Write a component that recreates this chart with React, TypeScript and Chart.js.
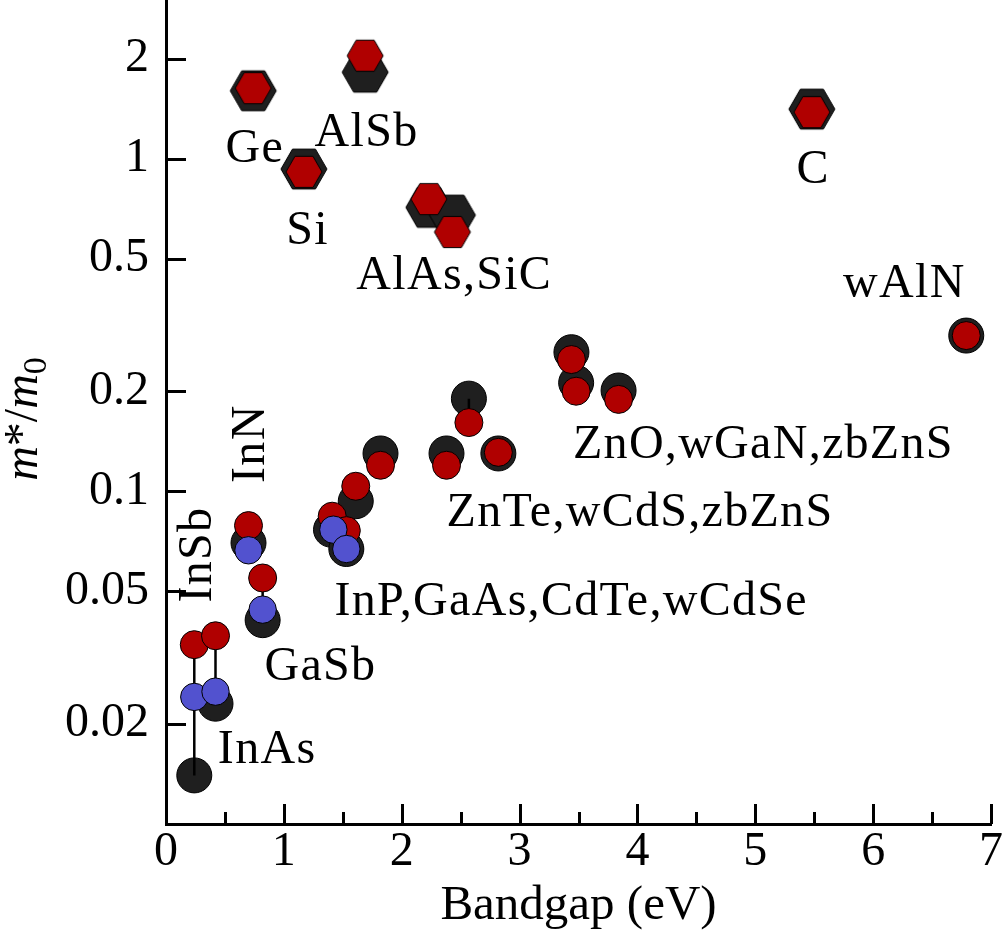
import React, { useEffect, useRef } from "react";
import { Chart, registerables } from "chart.js";

Chart.register(...registerables);

const FONT = '"Liberation Serif", "Times New Roman", serif';

// Direct-gap semiconductors (circles)
const directNames = ["InSb", "InAs", "InN", "GaSb", "InP", "GaAs", "CdTe", "wCdSe", "ZnTe", "wCdS", "zbZnS", "ZnO", "wGaN", "zbZnS", "wAlN"];
const directGapBlack = [0.24, 0.42, 0.70, 0.82, 1.40, 1.53, 1.61, 1.82, 2.38, 2.57, 2.82, 3.44, 3.48, 3.84, 6.79];
const directMassBlack = [0.014, 0.023, 0.070, 0.041, 0.0767, 0.0671, 0.0934, 0.130, 0.130, 0.190, 0.130, 0.262, 0.212, 0.201, 0.294];
const directGapRed = [0.24, 0.42, 0.70, 0.82, 1.41, 1.53, 1.61, 1.82, 2.38, 2.57, 2.82, 3.44, 3.48, 3.84, 6.79];
const directMassRed = [0.0346, 0.0368, 0.0789, 0.0549, 0.0842, 0.0762, 0.1036, 0.1198, 0.1198, 0.161, 0.131, 0.249, 0.200, 0.189, 0.294];
const blueNames = ["InSb", "InAs", "InN", "GaSb", "InP", "GaAs"];
const blueGap = [0.24, 0.42, 0.70, 0.82, 1.42, 1.53];
const blueMass = [0.0241, 0.025, 0.0665, 0.0441, 0.0767, 0.0671];

// Indirect-gap semiconductors (hexagons)
const indirectNames = ["Ge", "Si", "AlSb", "AlAs", "SiC", "C"];
const indirectGap = [0.74, 1.17, 1.69, 2.23, 2.43, 5.48];
const indirectMassBlack = [1.60, 0.931, 1.82, 0.714, 0.677, 1.41];
const indirectMassRed = [1.63, 0.913, 2.04, 0.756, 0.602, 1.38];

// Vertical spread bars
const rangeGap = [0.24, 0.42, 0.82, 2.57];
const rangeHigh = [0.0346, 0.0368, 0.0549, 0.190];
const rangeLow = [0.014, 0.023, 0.041, 0.161];

// Axis ticks
const xTicks = [0, 0.5, 1, 1.5, 2, 2.5, 3, 3.5, 4, 4.5, 5, 5.5, 6, 6.5, 7];
const yTicks = [0.02, 0.05, 0.1, 0.2, 0.5, 1, 2];

// Material labels (left end of baseline, in data units)
const labelText = ["Ge", "AlSb", "Si", "AlAs,SiC", "C", "wAlN", "ZnO,wGaN,zbZnS", "ZnTe,wCdS,zbZnS", "InP,GaAs,CdTe,wCdSe", "GaSb", "InAs", "InSb", "InN"];
const labelGap = [0.505, 1.261, 1.02, 1.615, 5.35, 5.745, 3.453, 2.381, 1.43, 0.836, 0.44, 0.378, 0.828];
const labelMass = [0.977, 1.094, 0.553, 0.405, 0.844, 0.383, 0.126, 0.0785, 0.0426, 0.0271, 0.0153, 0.0463, 0.106];
const labelVertical = [false, false, false, false, false, false, false, false, false, false, false, true, true];

const BLACK = "#1f1f1f";
const RED = "#b00000";
const BLUE = "#5252cf";

function hexagon(radius: number, fill: string, stroke: string, lw: number) {
  const size = Math.ceil(radius * 2 + lw * 2 + 2);
  const c = document.createElement("canvas");
  c.width = size;
  c.height = size;
  const g = c.getContext("2d")!;
  g.translate(size / 2, size / 2);
  g.beginPath();
  for (let i = 0; i < 6; i++) {
    const a = (Math.PI / 3) * i;
    const px = radius * Math.cos(a);
    const py = radius * Math.sin(a);
    if (i === 0) g.moveTo(px, py);
    else g.lineTo(px, py);
  }
  g.closePath();
  g.fillStyle = fill;
  g.fill();
  g.lineWidth = lw;
  g.strokeStyle = stroke;
  g.stroke();
  return c;
}

const pts = (xs: number[], ys: number[]) => xs.map((x, i) => ({ x, y: ys[i] }));

const innerTicks = {
  id: "innerTicks",
  afterDraw(chart: any) {
    const { ctx, chartArea, scales } = chart;
    ctx.save();
    ctx.strokeStyle = "#000";
    ctx.lineWidth = 3;
    ctx.beginPath();
    scales.y.ticks.forEach((t: any) => {
      const p = Math.round(scales.y.getPixelForValue(t.value)) + 0.5;
      ctx.moveTo(chartArea.left, p);
      ctx.lineTo(chartArea.left + 20, p);
    });
    scales.x.ticks.forEach((t: any) => {
      const p = Math.round(scales.x.getPixelForValue(t.value)) + 0.5;
      const len = Number.isInteger(t.value) ? 20 : 12;
      ctx.moveTo(p, chartArea.bottom);
      ctx.lineTo(p, chartArea.bottom - len);
    });
    ctx.stroke();
    ctx.restore();
  },
};

const materialLabels = {
  id: "materialLabels",
  afterDatasetsDraw(chart: any) {
    const { ctx, scales } = chart;
    ctx.save();
    ctx.font = `48px ${FONT}`;
    (ctx as any).letterSpacing = "1.3px";
    ctx.fillStyle = "#000";
    ctx.textAlign = "left";
    ctx.textBaseline = "alphabetic";
    labelText.forEach((t, i) => {
      const px = scales.x.getPixelForValue(labelGap[i]);
      const py = scales.y.getPixelForValue(labelMass[i]);
      ctx.save();
      ctx.translate(px, py);
      if (labelVertical[i]) ctx.rotate(-Math.PI / 2);
      ctx.fillText(t, 0, 0);
      ctx.restore();
    });
    ctx.restore();
  },
};

const massTitle = {
  id: "massTitle",
  afterDraw(chart: any) {
    const ctx = chart.ctx;
    const parts = [
      { t: "m", font: `italic 48px ${FONT}`, dy: 0 },
      { t: "*/", font: `48px ${FONT}`, dy: 0 },
      { t: "m", font: `italic 48px ${FONT}`, dy: 0 },
      { t: "0", font: `34px ${FONT}`, dy: 9 },
    ];
    ctx.save();
    let total = 0;
    parts.forEach((p) => {
      ctx.font = p.font;
      total += ctx.measureText(p.t).width;
    });
    ctx.translate(37, 419);
    ctx.rotate(-Math.PI / 2);
    ctx.fillStyle = "#000";
    ctx.textBaseline = "alphabetic";
    ctx.textAlign = "left";
    let x = -total / 2;
    parts.forEach((p) => {
      ctx.font = p.font;
      ctx.fillText(p.t, x, p.dy);
      x += ctx.measureText(p.t).width;
    });
    ctx.restore();
  },
};

export default function App() {
  const ref = useRef<HTMLCanvasElement>(null);

  useEffect(() => {
    const canvas = ref.current!;
    const hexBlack = hexagon(23, BLACK, "#000", 1);
    const hexRed = hexagon(18, RED, "#000", 1);

    const rangePoints: { x: number; y: number | null }[] = [];
    rangeGap.forEach((g, i) => {
      rangePoints.push({ x: g, y: rangeHigh[i] }, { x: g, y: rangeLow[i] }, { x: g, y: null });
    });

    const chart = new Chart(canvas, {
      type: "scatter",
      data: {
        datasets: [
          {
            label: "direct (black)",
            data: pts(directGapBlack, directMassBlack),
            pointRadius: 17.5,
            pointBackgroundColor: BLACK,
            pointBorderColor: "#000",
            pointBorderWidth: 1,
            order: 5,
          },
          {
            label: "indirect (black)",
            data: pts(indirectGap, indirectMassBlack),
            pointStyle: hexBlack,
            pointRadius: 23,
            order: 5,
          },
          {
            label: "spread",
            data: rangePoints as any,
            showLine: true,
            spanGaps: false,
            pointRadius: 0,
            borderColor: "#000",
            borderWidth: 2.5,
            order: 4,
          },
          {
            label: "direct (red)",
            data: pts(directGapRed, directMassRed),
            pointRadius: 14,
            pointBackgroundColor: RED,
            pointBorderColor: "#000",
            pointBorderWidth: 1,
            order: 3,
          },
          {
            label: "indirect (red)",
            data: pts(indirectGap, indirectMassRed),
            pointStyle: hexRed,
            pointRadius: 18,
            order: 3,
          },
          {
            label: "direct (blue)",
            data: pts(blueGap, blueMass),
            pointRadius: 13.7,
            pointBackgroundColor: BLUE,
            pointBorderColor: "#000",
            pointBorderWidth: 1,
            order: 2,
          },
        ],
      },
      options: {
        responsive: false,
        animation: false,
        devicePixelRatio: 1,
        layout: { autoPadding: false, padding: { top: 0, right: 12, left: 0, bottom: 0 } },
        plugins: { legend: { display: false }, tooltip: { enabled: false } },
        datasets: { scatter: { clip: false } as any },
        scales: {
          x: {
            type: "linear",
            min: 0,
            max: 7,
            grid: { display: false, drawTicks: false },
            border: { display: true, color: "#000", width: 3 },
            afterBuildTicks: (s: any) => {
              s.ticks = xTicks.map((v) => ({ value: v }));
            },
            afterFit: (s: any) => {
              s.height = 118;
              s.paddingLeft = 0;
              s.paddingRight = 0;
            },
            ticks: {
              autoSkip: false,
              maxRotation: 0,
              padding: 0,
              color: "#000",
              font: { family: FONT, size: 48 },
              callback: (v: any) => (Number.isInteger(v) ? String(v) : ""),
            },
            title: {
              display: true,
              text: "Bandgap (eV)",
              color: "#000",
              font: { family: FONT, size: 49 },
              padding: { top: 0, bottom: 6 },
            },
          },
          y: {
            type: "logarithmic",
            min: 0.01,
            max: 3,
            grid: { display: false, drawTicks: false },
            border: { display: true, color: "#000", width: 3 },
            afterBuildTicks: (s: any) => {
              s.ticks = yTicks.map((v) => ({ value: v }));
            },
            afterFit: (s: any) => {
              s.width = 166;
              s.paddingTop = 0;
              s.paddingBottom = 0;
            },
            ticks: {
              padding: 17,
              color: "#000",
              font: { family: FONT, size: 48 },
              callback: (v: any) => String(v),
            },
          },
        },
      },
      plugins: [innerTicks, materialLabels, massTitle],
    });
    return () => chart.destroy();
  }, []);

  return (
    <div style={{ position: "absolute", left: 0, top: 0, width: 1003, height: 942, background: "#fff" }}>
      <canvas ref={ref} width={1003} height={942} style={{ display: "block" }} />
    </div>
  );
}
